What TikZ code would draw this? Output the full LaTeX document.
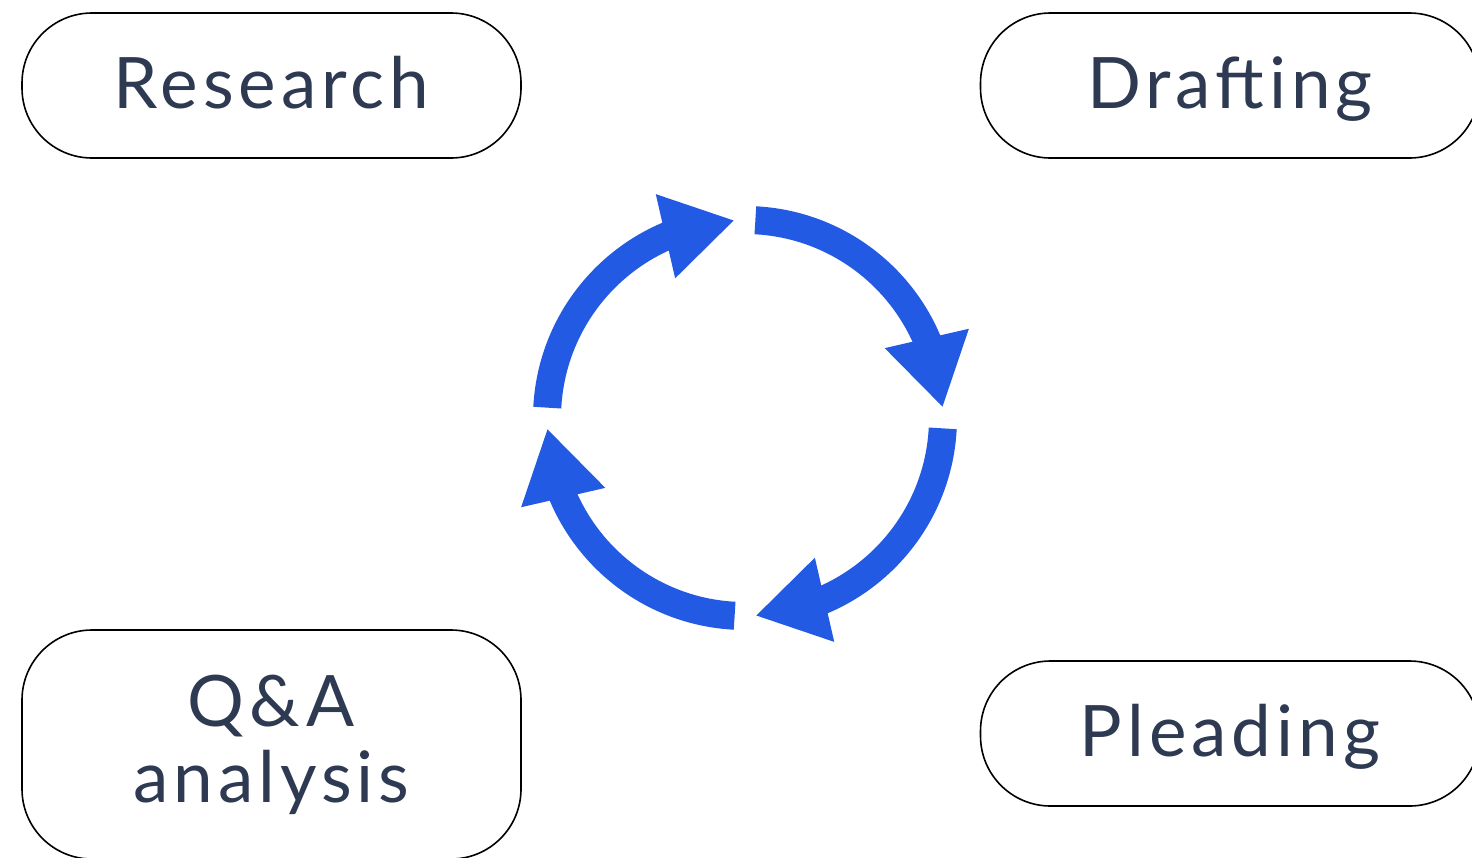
\documentclass[tikz,border=0pt]{standalone}
\usepackage{fontspec}
\setmainfont{Lato}[LetterSpace=7]
\usetikzlibrary{arrows.meta,bending}
\definecolor{txt}{HTML}{2E3A52}
\definecolor{cyc}{HTML}{235AE4}
\begin{document}
\begin{tikzpicture}[x=1pt,y=-1pt,
  stage/.style={draw=black, line width=1.6pt, rounded corners=70pt,
    minimum width=499pt, minimum height=145pt, text=txt,
    font=\fontsize{71}{76}\selectfont, inner sep=0pt, align=center},
  oneline/.style={text height=51pt, text depth=6pt},
  cycarrow/.style={draw=cyc, line width=28pt,
    -{Triangle[length=71pt,width=81pt,flex]}}]
\useasboundingbox (0,0) rectangle (1472,857);
\node[stage,oneline] (research) at (271.5,85.5) {Research};
\node[stage,oneline] (drafting) at (1230,85.5) {Drafting};
\node[stage,oneline] (pleading) at (1230,733.5) {Pleading};
\node[stage, minimum height=229pt] (qa) at (271.5,744.5) {Q\&A\\analysis};
\coordinate (c) at (745,418);
\foreach \a in {-87,3,93,183}{
  \draw[cycarrow] (c) ++(\a:198) arc[start angle=\a, end angle=\a+84, radius=198];
}
\end{tikzpicture}
\end{document}
